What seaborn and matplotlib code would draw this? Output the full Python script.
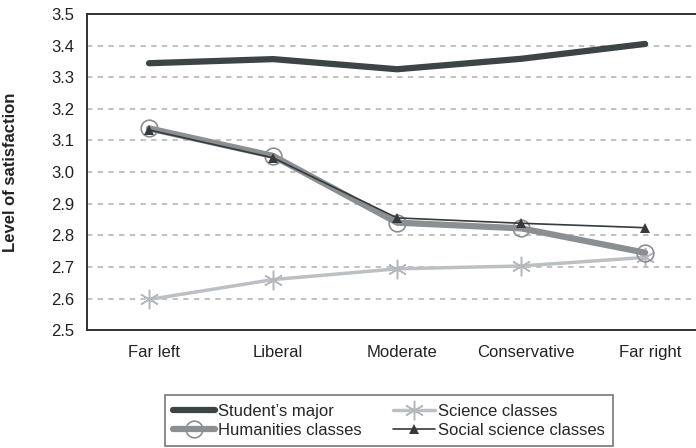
import matplotlib
matplotlib.use("Agg")
import matplotlib.pyplot as plt
import matplotlib.transforms as mtransforms
import seaborn as sns

categories = ["Far left", "Liberal", "Moderate", "Conservative", "Far right"]
students_major = [3.344, 3.357, 3.325, 3.358, 3.405]
science_classes = [2.597, 2.660, 2.694, 2.703, 2.730]
humanities_classes = [3.138, 3.051, 2.840, 2.822, 2.745]
social_science_classes = [3.133, 3.045, 2.855, 2.838, 2.824]
y_ticks = [2.5, 2.6, 2.7, 2.8, 2.9, 3.0, 3.1, 3.2, 3.3, 3.4, 3.5]

sns.set_theme(style="white")
plt.rcParams["font.family"] = ["Liberation Sans", "DejaVu Sans"]

fig = plt.figure(figsize=(6.96, 4.48), dpi=100)
ax = fig.add_axes([0.125, 0.263, 0.891, 0.706])

x = list(range(len(categories)))

sns.lineplot(x=x, y=students_major, ax=ax, color="#3c4446", lw=4.5,
             label="Student\u2019s major", zorder=3)
sns.lineplot(x=x, y=science_classes, ax=ax, color="#bcc0c4", lw=2.5,
             marker=(6, 2, 0), markersize=14, markeredgewidth=1.1,
             markeredgecolor="#b4b8bc", label="Science classes", zorder=4)
sns.lineplot(x=x, y=humanities_classes, ax=ax, color="#8c8f91", lw=4.5,
             marker="o", markersize=12, markerfacecolor="none",
             markeredgecolor="#8c8f91", markeredgewidth=1.2,
             label="Humanities classes", zorder=5)
sns.lineplot(x=x, y=social_science_classes, ax=ax, color="#353b3d", lw=1.2,
             marker="^", markersize=7, markeredgewidth=0,
             label="Social science classes", zorder=6)

ax.set_xlim(-0.5, 4.5)
ax.set_ylim(2.5, 3.5)
ax.set_xticks(x)
ax.set_xticklabels(categories)
ax.set_yticks(y_ticks)
ax.set_yticklabels([f"{v:.1f}" for v in y_ticks])
ax.tick_params(axis="both", length=0, labelsize=12, colors="#222222")
ax.tick_params(axis="y", pad=9)
ax.tick_params(axis="x", pad=11)

# category labels sit slightly right of the data points
shift = mtransforms.ScaledTranslation(5 / 100, 0, fig.dpi_scale_trans)
for lbl in ax.get_xticklabels():
    lbl.set_transform(lbl.get_transform() + shift)

for v in y_ticks[1:-1]:
    ax.axhline(v, color="#b0b0b0", lw=1.1, ls=(0, (3.5, 3.5)), zorder=1)

for side in ["left", "bottom", "top", "right"]:
    ax.spines[side].set_color("#333333")
    ax.spines[side].set_linewidth(1.4)

ax.set_xlabel("")
ax.set_ylabel("Level of satisfaction", fontsize=12, fontweight="bold",
              color="#222222")
ax.yaxis.set_label_coords(-0.111, 0.5)

handles, labels = ax.get_legend_handles_labels()
order = [0, 2, 1, 3]
leg = fig.legend([handles[i] for i in order], [labels[i] for i in order],
                 ncol=2, loc="lower left", bbox_to_anchor=(165 / 696, 2 / 448),
                 fontsize=12, frameon=True, fancybox=False,
                 handlelength=2.5, handletextpad=0.18, columnspacing=1.9,
                 borderpad=0.5, labelspacing=0.25, borderaxespad=0)
leg.get_frame().set_edgecolor("#555555")
leg.get_frame().set_linewidth(1.2)
ax.get_legend().remove()

fig.savefig("out.png", dpi=100)
